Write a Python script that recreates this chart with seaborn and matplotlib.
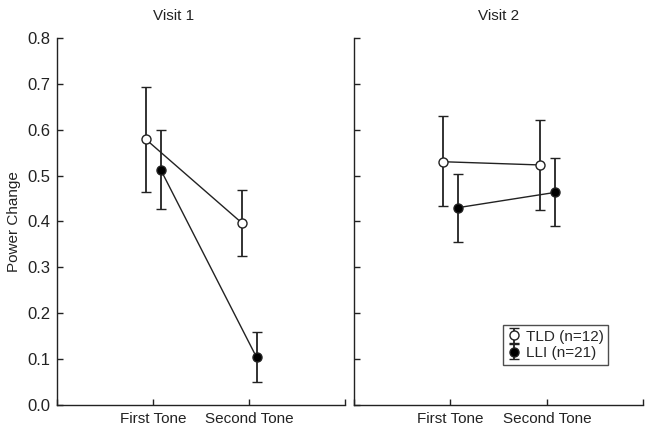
"""
Power change by tone position, Visit 1 vs Visit 2 (TLD vs LLI).
"""

import matplotlib.pyplot as plt
import pandas as pd
import seaborn as sns

# Data
visits = ["Visit 1", "Visit 2"]
tones = ["First Tone", "Second Tone"]
groups = ["TLD (n=12)", "LLI (n=21)"]

tld_mean = {"Visit 1": [0.579, 0.397], "Visit 2": [0.530, 0.523]}
tld_low = {"Visit 1": [0.464, 0.325], "Visit 2": [0.433, 0.425]}
tld_high = {"Visit 1": [0.693, 0.468], "Visit 2": [0.629, 0.622]}

lli_mean = {"Visit 1": [0.513, 0.104], "Visit 2": [0.430, 0.463]}
lli_low = {"Visit 1": [0.426, 0.051], "Visit 2": [0.356, 0.389]}
lli_high = {"Visit 1": [0.600, 0.158], "Visit 2": [0.504, 0.538]}

y_ticks = [0.0, 0.1, 0.2, 0.3, 0.4, 0.5, 0.6, 0.7, 0.8]

sns.set_style("ticks")
plt.rcParams["font.family"] = ["Liberation Sans", "DejaVu Sans"]

INK = "#222222"
OFFSETS = {groups[0]: -0.075, groups[1]: 0.08}
FACES = {groups[0]: "white", groups[1]: "black"}

rows = []
for v in visits:
    for g, m, lo, hi in [
        (groups[0], tld_mean[v], tld_low[v], tld_high[v]),
        (groups[1], lli_mean[v], lli_low[v], lli_high[v]),
    ]:
        for i, t in enumerate(tones):
            rows.append(
                {"visit": v, "group": g, "tone": t, "pos": i + 1 + OFFSETS[g],
                 "mean": m[i], "low": lo[i], "high": hi[i]}
            )
df = pd.DataFrame(rows)

fig = plt.figure(figsize=(6.51, 4.32), dpi=100)
ax1 = fig.add_axes([0.0876, 0.0625, 0.442, 0.85])
ax2 = fig.add_axes([0.544, 0.0625, 0.444, 0.85])

handles = []
for ax, v in zip([ax1, ax2], visits):
    sub = df[df["visit"] == v]
    sns.lineplot(
        data=sub, x="pos", y="mean", units="group", estimator=None,
        color=INK, lw=1.0, ax=ax, legend=False, zorder=2,
    )
    for g in groups:
        gs = sub[sub["group"] == g]
        eb = ax.errorbar(
            gs["pos"], gs["mean"],
            yerr=[gs["mean"] - gs["low"], gs["high"] - gs["mean"]],
            fmt="o", ms=6.5, mfc=FACES[g], mec=INK, mew=1.0,
            ecolor=INK, elinewidth=1.3, capsize=3.5, capthick=1.3,
            zorder=3, label=g,
        )
        if ax is ax2:
            handles.append(eb)

    ax.set_xlim(0, 3)
    ax.set_ylim(0, 0.8)
    ax.set_xticks([0, 1, 2, 3])
    ax.set_xticklabels([""] + tones + [""])
    ax.set_yticks(y_ticks)
    ax.set_xlabel("")
    ax.set_ylabel("")
    ax.tick_params(direction="in", length=4, width=1, color=INK,
                   labelsize=11, labelcolor=INK)
    ax.tick_params(axis="x", pad=5)
    ax.tick_params(axis="y", pad=5, labelsize=12)
    for side in ["left", "bottom"]:
        ax.spines[side].set_color(INK)
        ax.spines[side].set_linewidth(1.0)
    sns.despine(ax=ax)

ax1.set_yticklabels([f"{t:.1f}" for t in y_ticks])
ax1.set_ylabel("Power Change", fontsize=11, color=INK, labelpad=4)
ax1.set_title(visits[0], fontsize=11, color=INK, x=0.405, pad=13)
ax2.set_yticklabels([])
ax2.set_title(visits[1], fontsize=11, color=INK, pad=13)

leg = ax2.legend(
    handles=handles, labels=groups, loc="lower left",
    bbox_to_anchor=(0.515, 0.11), fontsize=11, frameon=True,
    fancybox=False, edgecolor=INK, handlelength=0.9, handletextpad=0.3,
    borderpad=0.3, labelspacing=0.15, borderaxespad=0,
)
leg.get_frame().set_linewidth(1.0)

fig.savefig("out.png", dpi=100)
